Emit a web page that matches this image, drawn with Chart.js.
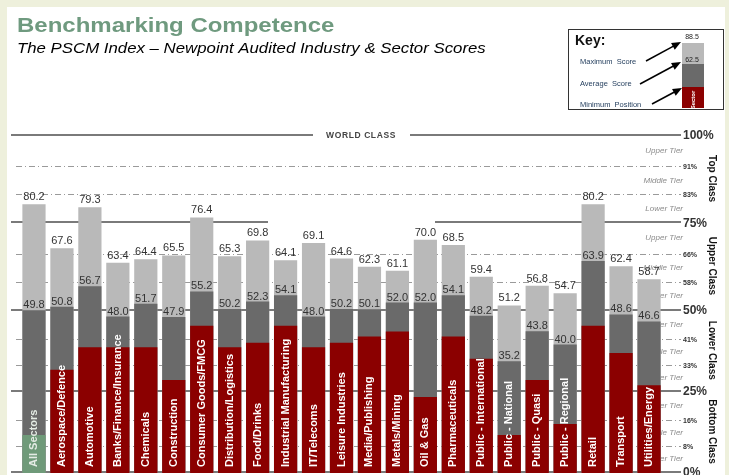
<!DOCTYPE html>
<html>
<head>
<meta charset="utf-8">
<script src="https://cdn.jsdelivr.net/npm/chart.js@4"></script>
<style>
	html, body { margin: 0; padding: 0; background: #eef0dc; }
	#wrap { width: 729px; height: 475px; position: relative; }
</style>
</head>
<body>
<div id="wrap"><canvas id="pscm" width="729" height="475"></canvas></div>
<script>
const sectors = [
	"All Sectors", "Aerospace/Defence", "Automotive", "Banks/Finance/Insurance",
	"Chemicals", "Construction", "Consumer Goods/FMCG", "Distribution/Logistics",
	"Food/Drinks", "Industrial Manufacturing", "IT/Telecoms", "Leisure Industries",
	"Media/Publishing", "Metals/Mining", "Oil & Gas", "Pharmaceuticals",
	"Public - International", "Public - National", "Public - Quasi",
	"Public - Regional", "Retail", "Transport", "Utilities/Energy",
];
const maxScore = [80.2, 67.6, 79.3, 63.4, 64.4, 65.5, 76.4, 65.3, 69.8, 64.1, 69.1, 64.6,
	62.3, 61.1, 70.0, 68.5, 59.4, 51.2, 56.8, 54.7, 80.2, 62.4, 58.7];
const avgScore = [49.8, 50.8, 56.7, 48.0, 51.7, 47.9, 55.2, 50.2, 52.3, 54.1, 48.0, 50.2,
	50.1, 52.0, 52.0, 54.1, 48.2, 35.2, 43.8, 40.0, 63.9, 48.6, 46.6];
// minimum position (unlabelled in the picture)
const minPosition = [14.1, 32.8, 39.2, 39.2, 39.2, 29.8, 45.4, 39.2, 40.5, 45.4, 39.2, 40.5,
	42.3, 43.7, 25.0, 42.3, 35.9, 14.1, 29.8, 17.2, 45.4, 37.6, 28.3];

const classLines = [100, 75, 50, 25, 0];
const tierLines = [91, 83, 66, 58, 41, 33, 16, 8];
const classNames = ["Top Class", "Upper Class", "Lower Class", "Bottom Class"];
const tierNames = ["Upper Tier", "Middle Tier", "Lower Tier"];

const RED = "#8b0000";
const DARK = "#6a6a6a";
const LIGHT = "#b9b9b9";
const GREEN = "#6f9a79";

// the right-hand scale of the original is squashed below 50%,
// so the lower guides use their own axis (y2)
const levelY = (chart, v) =>
	v >= 50 ? chart.scales.y.getPixelForValue(v) : chart.scales.y2.getPixelForValue(v);

const arrow = (ctx, x1, y1, x2, y2) => {
	const a = Math.atan2(y2 - y1, x2 - x1);
	ctx.beginPath();
	ctx.moveTo(x1, y1);
	ctx.lineTo(x2 - 8 * Math.cos(a), y2 - 8 * Math.sin(a));
	ctx.stroke();
	ctx.beginPath();
	ctx.moveTo(x2, y2);
	ctx.lineTo(x2 - 10 * Math.cos(a - 0.4), y2 - 10 * Math.sin(a - 0.4));
	ctx.lineTo(x2 - 10 * Math.cos(a + 0.4), y2 - 10 * Math.sin(a + 0.4));
	ctx.closePath();
	ctx.fill();
};

const page = {
	id: "page",
	beforeDraw(chart) {
		const { ctx } = chart;
		ctx.save();
		ctx.fillStyle = "#eef0dc";
		ctx.fillRect(0, 0, 729, 475);
		ctx.fillStyle = "#fff";
		ctx.fillRect(7, 7, 718, 468);

		// titles (the original is stretched sideways)
		ctx.save();
		ctx.scale(1.2, 1);
		ctx.fillStyle = "#6f9a7f";
		ctx.font = "bold 20px Arial, 'Liberation Sans'";
		ctx.fillText("Benchmarking Competence", 17 / 1.2, 32);
		ctx.fillStyle = "#000";
		ctx.font = "italic 14px Arial, 'Liberation Sans'";
		ctx.fillText("The PSCM Index \u2013 Newpoint Audited Industry & Sector Scores", 17 / 1.2, 53);
		ctx.restore();

		// key
		ctx.strokeStyle = "#333";
		ctx.lineWidth = 1;
		ctx.strokeRect(568.5, 29.5, 155, 80);
		ctx.fillStyle = "#111";
		ctx.font = "bold 14px Arial, 'Liberation Sans'";
		ctx.fillText("Key:", 575, 45);
		ctx.fillStyle = LIGHT;
		ctx.fillRect(682, 43, 22, 21);
		ctx.fillStyle = DARK;
		ctx.fillRect(682, 64, 22, 23);
		ctx.fillStyle = RED;
		ctx.fillRect(682, 87, 22, 21);
		ctx.fillStyle = "#222";
		ctx.font = "7px Arial, 'Liberation Sans'";
		ctx.textAlign = "center";
		ctx.fillText("88.5", 692, 39);
		ctx.fillText("62.5", 692, 62);
		ctx.textAlign = "left";
		ctx.font = "7.5px Arial, 'Liberation Sans'";
		ctx.fillStyle = "#1f3a5a";
		ctx.fillText("Maximum  Score", 580, 64);
		ctx.fillText("Average  Score", 580, 86);
		ctx.fillText("Minimum  Position", 580, 107);
		ctx.save();
		ctx.translate(693, 100);
		ctx.rotate(-Math.PI / 2);
		ctx.fillStyle = "#fff";
		ctx.font = "bold 6px Arial, 'Liberation Sans'";
		ctx.textAlign = "center";
		ctx.textBaseline = "middle";
		ctx.fillText("Sector", 0, 0);
		ctx.restore();
		ctx.strokeStyle = "#000";
		ctx.fillStyle = "#000";
		ctx.lineWidth = 1.5;
		arrow(ctx, 646, 61, 681, 42);
		arrow(ctx, 640, 84, 681, 62);
		arrow(ctx, 652, 104, 682, 88);
		ctx.restore();
	},
	beforeDatasetsDraw(chart) {
		const { ctx } = chart;
		ctx.save();
		// tier guides
		ctx.strokeStyle = "#9a9a9a";
		ctx.lineWidth = 1;
		ctx.setLineDash([6, 3, 1, 3]);
		tierLines.forEach(v => {
			const y = Math.round(levelY(chart, v)) + 0.5;
			ctx.beginPath();
			ctx.moveTo(16, y);
			ctx.lineTo(681, y);
			ctx.stroke();
		});
		ctx.setLineDash([]);
		// class boundaries
		ctx.strokeStyle = "#7a7a7a";
		ctx.lineWidth = 2;
		const gaps = { 100: [313, 410], 75: [268, 435] };
		classLines.forEach(v => {
			const y = Math.round(levelY(chart, v));
			const g = gaps[v];
			ctx.beginPath();
			if (g) {
				ctx.moveTo(11, y);
				ctx.lineTo(g[0], y);
				ctx.moveTo(g[1], y);
				ctx.lineTo(681, y);
			} else {
				ctx.moveTo(11, y);
				ctx.lineTo(681, y);
			}
			ctx.stroke();
		});
		ctx.fillStyle = "#444";
		ctx.font = "bold 8.5px Arial, 'Liberation Sans'";
		ctx.textAlign = "center";
		ctx.textBaseline = "middle";
		ctx.letterSpacing = "0.6px";
		ctx.fillText("WORLD CLASS", 361, levelY(chart, 100) + 1);
		ctx.letterSpacing = "0px";

		// tier names, percentages, class names
		ctx.textAlign = "right";
		ctx.fillStyle = "#8c8c8c";
		ctx.font = "italic 8px Arial, 'Liberation Sans'";
		classNames.forEach((name, i) => {
			const top = classLines[i];
			const bounds = [top, ...tierLines.slice(i * 2, i * 2 + 2), classLines[i + 1]];
			tierNames.forEach((t, j) => {
				const y = (levelY(chart, bounds[j]) + levelY(chart, bounds[j + 1])) / 2;
				ctx.fillText(t, 683, y);
			});
		});
		ctx.textAlign = "left";
		ctx.fillStyle = "#333";
		ctx.font = "bold 12px Arial, 'Liberation Sans'";
		classLines.forEach(v => ctx.fillText(v + "%", 683, levelY(chart, v) + 1));
		ctx.font = "bold 7px Arial, 'Liberation Sans'";
		tierLines.forEach(v => ctx.fillText(v + "%", 683, levelY(chart, v) + 1));
		ctx.fillStyle = "#111";
		ctx.font = "bold 10px Arial, 'Liberation Sans'";
		ctx.textAlign = "center";
		classNames.forEach((name, i) => {
			const y = (levelY(chart, classLines[i]) + levelY(chart, classLines[i + 1])) / 2;
			ctx.save();
			ctx.translate(712, y);
			ctx.rotate(Math.PI / 2);
			ctx.fillText(name, 0, 0);
			ctx.restore();
		});
		ctx.restore();
	},
	afterDatasetsDraw(chart) {
		const { ctx } = chart;
		const maxBars = chart.getDatasetMeta(2).data;
		const avgBars = chart.getDatasetMeta(1).data;
		ctx.save();
		ctx.font = "11px Arial, 'Liberation Sans'";
		ctx.fillStyle = "#333";
		ctx.textAlign = "center";
		maxBars.forEach((bar, i) => {
			ctx.fillText(maxScore[i].toFixed(1), bar.x, bar.y - 4);
			ctx.fillText(avgScore[i].toFixed(1), avgBars[i].x, avgBars[i].y - 2);
		});
		ctx.font = "bold 11px Arial, 'Liberation Sans'";
		ctx.textAlign = "left";
		ctx.textBaseline = "middle";
		sectors.forEach((name, i) => {
			ctx.save();
			ctx.translate(maxBars[i].x, chart.chartArea.bottom - 6);
			ctx.rotate(-Math.PI / 2);
			ctx.fillStyle = i === 0 ? "#e4ebe4" : "#fff";
			ctx.fillText(name, 0, 0);
			ctx.restore();
		});
		ctx.restore();
	},
};

const config = {
	type: "bar",
	plugins: [page],
	data: {
		labels: sectors,
		datasets: [
			{
				label: "Minimum Position",
				data: minPosition,
				backgroundColor: minPosition.map((v, i) => (i === 0 ? GREEN : RED)),
			},
			{ label: "Average Score", data: avgScore, backgroundColor: DARK },
			{ label: "Maximum Score", data: maxScore, backgroundColor: LIGHT },
		],
	},
	options: {
		responsive: false,
		animation: false,
		events: [],
		datasets: {
			bar: { grouped: false, barPercentage: 0.83, categoryPercentage: 1 },
		},
		layout: { padding: { left: 20, right: 66, top: 135, bottom: 2 } },
		plugins: { legend: { display: false }, tooltip: { enabled: false } },
		scales: {
			x: { display: false },
			y: { display: false, min: 3.2, max: 100 },
			y2: { display: false, min: -0.3, max: 104 },
		},
	},
};

new Chart(document.getElementById("pscm"), config);
</script>
</body>
</html>
